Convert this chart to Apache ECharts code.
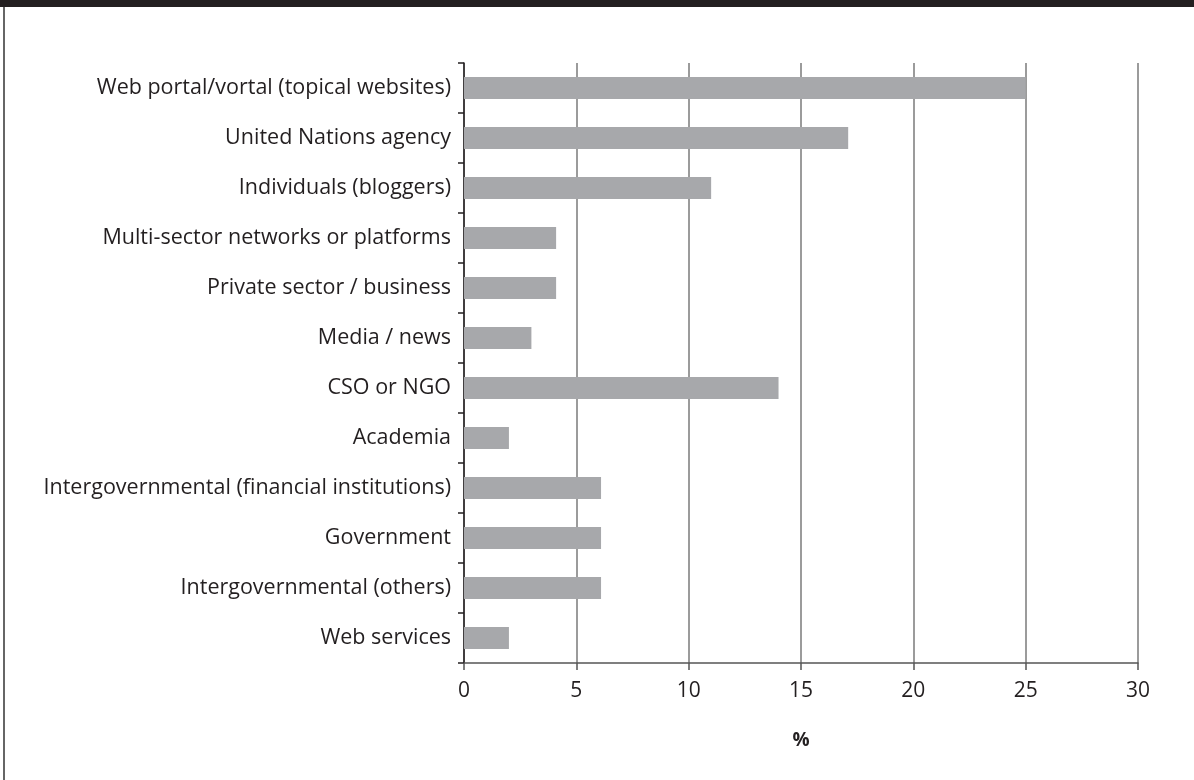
<!DOCTYPE html>
<html><head><meta charset="utf-8">
<script src="https://cdn.jsdelivr.net/npm/echarts@6/dist/echarts.min.js"></script>
<style>html,body{margin:0;padding:0;background:#fff}#c{width:1194px;height:780px}</style>
</head><body><div id="c"></div>
<script>
const categories = [
  "Web portal/vortal (topical websites)",
  "United Nations agency",
  "Individuals (bloggers)",
  "Multi-sector networks or platforms",
  "Private sector / business",
  "Media / news",
  "CSO or NGO",
  "Academia",
  "Intergovernmental (financial institutions)",
  "Government",
  "Intergovernmental (others)",
  "Web services"
];
const values = [25, 17.1, 11, 4.1, 4.1, 3, 14, 2, 6.1, 6.1, 6.1, 2];
const xTicks = [0, 5, 10, 15, 20, 25, 30];
const axisTitle = "%";

const chart = echarts.init(document.getElementById('c'), null, {renderer: 'canvas'});
const font = '"Open Sans", "Noto Sans", sans-serif';
chart.setOption({
  animation: false,
  backgroundColor: '#fff',
  graphic: [
    {type: 'rect', left: 0, top: 0, shape: {width: 1194, height: 7}, style: {fill: '#231f20'}},
    {type: 'rect', left: 3, top: 7, shape: {width: 2, height: 773}, style: {fill: '#666'}}
  ],
  grid: {left: 464, right: 56, top: 63, bottom: 117},
  xAxis: {
    type: 'value', min: xTicks[0], max: xTicks[xTicks.length - 1], interval: 5,
    name: axisTitle, nameLocation: 'middle', nameGap: 68,
    nameTextStyle: {fontFamily: font, fontSize: 19, fontWeight: 'bold', color: '#231f20'},
    axisLine: {show: true, lineStyle: {color: '#555', width: 1.5}},
    axisTick: {show: true, length: 7, lineStyle: {color: '#555', width: 1.5}},
    axisLabel: {fontFamily: font, fontSize: 21, color: '#231f20', margin: 18},
    splitLine: {show: true, lineStyle: {color: '#7a7a7a', width: 1.5}}
  },
  yAxis: {
    type: 'category', data: categories, inverse: true,
    axisLine: {show: true, lineStyle: {color: '#231f20', width: 1.5}},
    axisTick: {show: true, length: 6, alignWithLabel: false, lineStyle: {color: '#231f20', width: 1.5}},
    axisLabel: {fontFamily: font, fontSize: 21.5, color: '#231f20', margin: 13},
    splitLine: {show: false}
  },
  series: [{
    type: 'bar', data: values, barWidth: 22,
    itemStyle: {color: '#a7a8ab'}
  }]
});
</script></body></html>
